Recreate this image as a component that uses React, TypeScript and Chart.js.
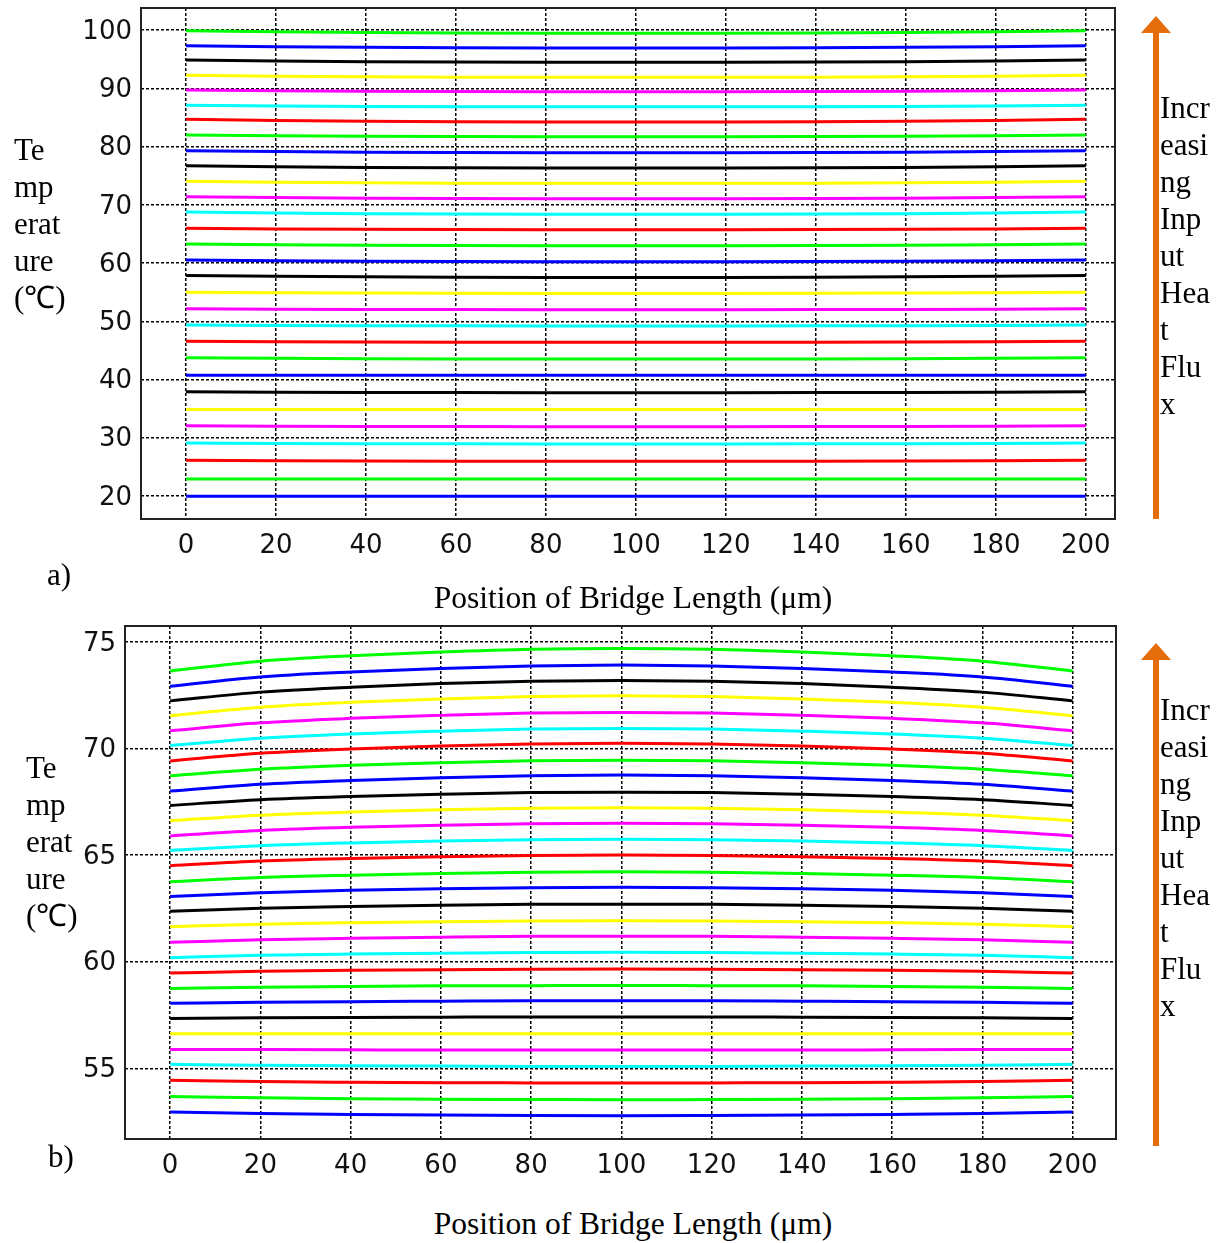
import React, { useEffect, useRef } from "react";
import { Chart, registerables } from "chart.js";
Chart.register(...registerables);

// ---------- data ----------
const positions = [0, 20, 40, 60, 80, 100, 120, 140, 160, 180, 200];
const xTickValues = [0, 20, 40, 60, 80, 100, 120, 140, 160, 180, 200];
const topYTickValues = [20, 30, 40, 50, 60, 70, 80, 90, 100];
const bottomYTickValues = [55, 60, 65, 70, 75];
const lineColors = ["#00ff00", "#0000ff", "#000000", "#ffff00", "#ff00ff", "#00ffff", "#ff0000"];

const topSeries: number[][] = [
  [99.88, 99.69, 99.56, 99.49, 99.45, 99.45, 99.45, 99.49, 99.56, 99.69, 99.88],
  [97.31, 97.13, 97.02, 96.96, 96.92, 96.92, 96.92, 96.96, 97.02, 97.13, 97.31],
  [94.85, 94.68, 94.57, 94.51, 94.47, 94.47, 94.47, 94.51, 94.57, 94.68, 94.85],
  [92.22, 92.07, 91.97, 91.91, 91.88, 91.88, 91.88, 91.91, 91.97, 92.07, 92.22],
  [89.7, 89.57, 89.48, 89.44, 89.41, 89.41, 89.41, 89.44, 89.48, 89.57, 89.7],
  [87.07, 86.95, 86.88, 86.84, 86.81, 86.81, 86.81, 86.84, 86.88, 86.95, 87.07],
  [84.67, 84.47, 84.33, 84.27, 84.22, 84.22, 84.22, 84.27, 84.33, 84.47, 84.67],
  [81.97, 81.84, 81.75, 81.7, 81.67, 81.67, 81.67, 81.7, 81.75, 81.84, 81.97],
  [79.28, 79.13, 79.03, 78.97, 78.94, 78.94, 78.94, 78.97, 79.03, 79.13, 79.28],
  [76.7, 76.52, 76.41, 76.35, 76.31, 76.31, 76.31, 76.35, 76.41, 76.52, 76.7],
  [74.02, 73.87, 73.77, 73.71, 73.68, 73.68, 73.68, 73.71, 73.77, 73.87, 74.02],
  [71.38, 71.23, 71.13, 71.07, 71.04, 71.04, 71.04, 71.07, 71.13, 71.23, 71.38],
  [68.75, 68.58, 68.47, 68.42, 68.38, 68.38, 68.38, 68.42, 68.47, 68.58, 68.75],
  [65.95, 65.85, 65.78, 65.74, 65.72, 65.72, 65.72, 65.74, 65.78, 65.85, 65.95],
  [63.26, 63.13, 63.05, 63.01, 62.98, 62.98, 62.98, 63.01, 63.05, 63.13, 63.26],
  [60.5, 60.37, 60.29, 60.25, 60.22, 60.22, 60.22, 60.25, 60.29, 60.37, 60.5],
  [57.87, 57.72, 57.62, 57.56, 57.53, 57.53, 57.53, 57.56, 57.62, 57.72, 57.87],
  [55.0, 54.9, 54.83, 54.79, 54.77, 54.77, 54.77, 54.79, 54.83, 54.9, 55.0],
  [52.15, 52.07, 52.02, 52.0, 51.98, 51.98, 51.98, 52.0, 52.02, 52.07, 52.15],
  [49.36, 49.28, 49.23, 49.21, 49.19, 49.19, 49.19, 49.21, 49.23, 49.28, 49.36],
  [46.56, 46.48, 46.43, 46.41, 46.39, 46.39, 46.39, 46.41, 46.43, 46.48, 46.56],
  [43.75, 43.65, 43.58, 43.54, 43.52, 43.52, 43.52, 43.54, 43.58, 43.65, 43.75],
  [40.73, 40.73, 40.73, 40.73, 40.73, 40.73, 40.73, 40.73, 40.73, 40.73, 40.73],
  [37.9, 37.82, 37.77, 37.75, 37.73, 37.73, 37.73, 37.75, 37.77, 37.82, 37.9],
  [34.87, 34.87, 34.87, 34.87, 34.87, 34.87, 34.87, 34.87, 34.87, 34.87, 34.87],
  [32.06, 31.99, 31.94, 31.92, 31.9, 31.9, 31.9, 31.92, 31.94, 31.99, 32.06],
  [29.1, 29.02, 28.97, 28.95, 28.93, 28.93, 28.93, 28.95, 28.97, 29.02, 29.1],
  [26.13, 26.05, 26.0, 25.98, 25.96, 25.96, 25.96, 25.98, 26.0, 26.05, 26.13],
  [22.92, 22.92, 22.92, 22.92, 22.92, 22.92, 22.92, 22.92, 22.92, 22.92, 22.92],
  [19.95, 19.95, 19.95, 19.95, 19.95, 19.95, 19.95, 19.95, 19.95, 19.95, 19.95],
];

const bottomSeries: number[][] = [
  [73.63, 74.09, 74.34, 74.52, 74.65, 74.69, 74.65, 74.52, 74.34, 74.09, 73.63],
  [72.92, 73.35, 73.58, 73.75, 73.87, 73.91, 73.87, 73.75, 73.58, 73.35, 72.92],
  [72.23, 72.64, 72.87, 73.04, 73.15, 73.19, 73.15, 73.04, 72.87, 72.64, 72.23],
  [71.53, 71.93, 72.16, 72.32, 72.43, 72.47, 72.43, 72.32, 72.16, 71.93, 71.53],
  [70.83, 71.2, 71.41, 71.55, 71.66, 71.69, 71.66, 71.55, 71.41, 71.2, 70.83],
  [70.14, 70.48, 70.68, 70.81, 70.91, 70.94, 70.91, 70.81, 70.68, 70.48, 70.14],
  [69.41, 69.77, 69.97, 70.11, 70.21, 70.24, 70.21, 70.11, 69.97, 69.77, 69.41],
  [68.72, 69.03, 69.21, 69.33, 69.42, 69.45, 69.42, 69.33, 69.21, 69.03, 68.72],
  [68.0, 68.32, 68.5, 68.63, 68.72, 68.75, 68.72, 68.63, 68.5, 68.32, 68.0],
  [67.33, 67.6, 67.75, 67.85, 67.93, 67.95, 67.93, 67.85, 67.75, 67.6, 67.33],
  [66.61, 66.87, 67.02, 67.12, 67.2, 67.22, 67.2, 67.12, 67.02, 66.87, 66.61],
  [65.9, 66.15, 66.3, 66.4, 66.47, 66.49, 66.47, 66.4, 66.3, 66.15, 65.9],
  [65.22, 65.44, 65.57, 65.66, 65.72, 65.74, 65.72, 65.66, 65.57, 65.44, 65.22],
  [64.5, 64.72, 64.84, 64.92, 64.98, 65.0, 64.98, 64.92, 64.84, 64.72, 64.5],
  [63.75, 63.95, 64.06, 64.14, 64.2, 64.22, 64.2, 64.14, 64.06, 63.95, 63.75],
  [63.06, 63.24, 63.35, 63.42, 63.47, 63.49, 63.47, 63.42, 63.35, 63.24, 63.06],
  [62.37, 62.51, 62.59, 62.65, 62.69, 62.7, 62.69, 62.65, 62.59, 62.51, 62.37],
  [61.64, 61.76, 61.83, 61.88, 61.91, 61.92, 61.91, 61.88, 61.83, 61.76, 61.64],
  [60.91, 61.03, 61.1, 61.15, 61.19, 61.2, 61.19, 61.15, 61.1, 61.03, 60.91],
  [60.19, 60.3, 60.36, 60.4, 60.43, 60.44, 60.43, 60.4, 60.36, 60.3, 60.19],
  [59.47, 59.55, 59.6, 59.63, 59.65, 59.66, 59.65, 59.63, 59.6, 59.55, 59.47],
  [58.75, 58.81, 58.84, 58.87, 58.88, 58.89, 58.88, 58.87, 58.84, 58.81, 58.75],
  [58.05, 58.1, 58.13, 58.15, 58.17, 58.17, 58.17, 58.15, 58.13, 58.1, 58.05],
  [57.34, 57.37, 57.39, 57.4, 57.41, 57.41, 57.41, 57.4, 57.39, 57.37, 57.34],
  [56.62, 56.62, 56.62, 56.62, 56.62, 56.62, 56.62, 56.62, 56.62, 56.62, 56.62],
  [55.89, 55.88, 55.87, 55.86, 55.86, 55.86, 55.86, 55.86, 55.87, 55.88, 55.89],
  [55.19, 55.15, 55.12, 55.11, 55.09, 55.09, 55.09, 55.11, 55.12, 55.15, 55.19],
  [54.44, 54.38, 54.35, 54.33, 54.32, 54.31, 54.32, 54.33, 54.35, 54.38, 54.44],
  [53.68, 53.62, 53.58, 53.55, 53.54, 53.53, 53.54, 53.55, 53.58, 53.62, 53.68],
  [52.96, 52.88, 52.84, 52.81, 52.79, 52.78, 52.79, 52.81, 52.84, 52.88, 52.96],
];

const yAxisLabelLines = ["Te", "mp", "erat", "ure", "(℃)"];
const arrowLabelLines = ["Incr", "easi", "ng", "Inp", "ut", "Hea", "t", "Flu", "x"];
const xAxisTitle = "Position of Bridge Length (μm)";

// ---------- chart helper ----------
const frameBox = {
  id: "frameBox",
  afterDraw(chart: any) {
    const { ctx, chartArea } = chart;
    ctx.save();
    ctx.strokeStyle = "#222";
    ctx.lineWidth = 2;
    ctx.strokeRect(chartArea.left, chartArea.top, chartArea.right - chartArea.left, chartArea.bottom - chartArea.top);
    ctx.restore();
  },
};

type PanelCfg = {
  series: number[][];
  yTicks: number[];
  xMin: number;
  xMax: number;
  yMin: number;
  yMax: number;
  yAxisWidth: number;
  xAxisHeight: number;
  padTop: number;
  padRight: number;
  curved: boolean;
  width: number;
  height: number;
};

function Panel(p: PanelCfg) {
  const ref = useRef<HTMLCanvasElement | null>(null);
  useEffect(() => {
    if (!ref.current) return;
    const datasets = p.series.map((vals, i) => ({
      data: positions.map((x, j) => ({ x, y: vals[j] })),
      borderColor: lineColors[i % lineColors.length],
      backgroundColor: lineColors[i % lineColors.length],
      borderWidth: 3,
      pointRadius: 0,
      tension: 0,
      cubicInterpolationMode: p.curved ? ("monotone" as const) : ("default" as const),
      fill: false,
    }));
    const tickFont = { family: "'DejaVu Sans', sans-serif", size: 26 };
    const gridCommon = {
      color: "#000",
      lineWidth: 1.5,
      drawTicks: false,
    };
    const chart = new Chart(ref.current, {
      type: "line",
      data: { datasets },
      options: {
        animation: false,
        responsive: false,
        layout: { padding: { top: p.padTop, right: p.padRight, left: 0, bottom: 0 } },
        plugins: { legend: { display: false }, tooltip: { enabled: false } },
        scales: {
          x: {
            type: "linear",
            min: p.xMin,
            max: p.xMax,
            z: 1,
            border: { display: false, dash: [3, 2] },
            grid: gridCommon,
            afterBuildTicks: (s: any) => {
              s.ticks = xTickValues.map((v) => ({ value: v }));
            },
            afterFit: (s: any) => {
              s.height = p.xAxisHeight;
              s.paddingLeft = 0;
              s.paddingRight = 0;
              s.paddingTop = 0;
              s.paddingBottom = 0;
            },
            ticks: { font: tickFont, color: "#111", padding: 12, maxRotation: 0, autoSkip: false },
          },
          y: {
            type: "linear",
            min: p.yMin,
            max: p.yMax,
            z: 1,
            border: { display: false, dash: [3, 2] },
            grid: gridCommon,
            afterBuildTicks: (s: any) => {
              s.ticks = p.yTicks.map((v) => ({ value: v }));
            },
            afterFit: (s: any) => {
              s.width = p.yAxisWidth;
              s.paddingLeft = 0;
              s.paddingRight = 0;
              s.paddingTop = 0;
              s.paddingBottom = 0;
            },
            ticks: { font: tickFont, color: "#111", padding: 9, autoSkip: false, labelOffset: 2 },
          },
        },
      },
      plugins: [frameBox],
    } as any);
    return () => chart.destroy();
  }, []);
  return <canvas ref={ref} width={p.width} height={p.height} style={{ display: "block" }} />;
}

const serif: React.CSSProperties = {
  position: "absolute",
  fontFamily: "'Liberation Serif', 'Times New Roman', serif",
  fontSize: 31,
  lineHeight: "37px",
  color: "#000",
  whiteSpace: "nowrap",
};

const ORANGE = "#e46c0a";

function Arrow({ top, bottom }: { top: number; bottom: number }) {
  return (
    <>
      <div
        style={{
          position: "absolute",
          left: 1141,
          top,
          width: 0,
          height: 0,
          borderLeft: "15px solid transparent",
          borderRight: "15px solid transparent",
          borderBottom: `17px solid ${ORANGE}`,
        }}
      />
      <div style={{ position: "absolute", left: 1153, top: top + 16, width: 6, height: bottom - top - 16, background: ORANGE }} />
    </>
  );
}

function Lines({ lines, left, top }: { lines: string[]; left: number; top: number }) {
  return (
    <div style={{ ...serif, left, top }}>
      {lines.map((l, i) => (
        <div key={i}>{l}</div>
      ))}
    </div>
  );
}

export default function App() {
  return (
    <div style={{ position: "absolute", left: 0, top: 0, width: 1223, height: 1243, background: "#fff", overflow: "hidden" }}>
      <div style={{ position: "absolute", left: 0, top: 0 }}>
        <Panel
          series={topSeries}
          yTicks={topYTickValues}
          xMin={-10}
          xMax={206.5}
          yMin={16.05}
          yMax={103.78}
          yAxisWidth={141}
          xAxisHeight={51}
          padTop={8}
          padRight={108}
          curved={false}
          width={1223}
          height={570}
        />
      </div>
      <div style={{ position: "absolute", left: 0, top: 600 }}>
        <Panel
          series={bottomSeries}
          yTicks={bottomYTickValues}
          xMin={-10}
          xMax={209.6}
          yMin={51.69}
          yMax={75.74}
          yAxisWidth={125}
          xAxisHeight={61}
          padTop={26}
          padRight={107}
          curved={true}
          width={1223}
          height={600}
        />
      </div>

      <Lines lines={yAxisLabelLines} left={14} top={131} />
      <Lines lines={arrowLabelLines} left={1160} top={89} />
      <div style={{ ...serif, left: 47, top: 556 }}>a)</div>
      <div style={{ ...serif, fontSize: 31.5, left: 633, top: 579, transform: "translateX(-50%)" }}>{xAxisTitle}</div>
      <Arrow top={16} bottom={519} />

      <Lines lines={yAxisLabelLines} left={26} top={749} />
      <Lines lines={arrowLabelLines} left={1160} top={691} />
      <div style={{ ...serif, left: 48, top: 1138 }}>b)</div>
      <div style={{ ...serif, fontSize: 31.5, left: 633, top: 1205, transform: "translateX(-50%)" }}>{xAxisTitle}</div>
      <Arrow top={643} bottom={1146} />
    </div>
  );
}
